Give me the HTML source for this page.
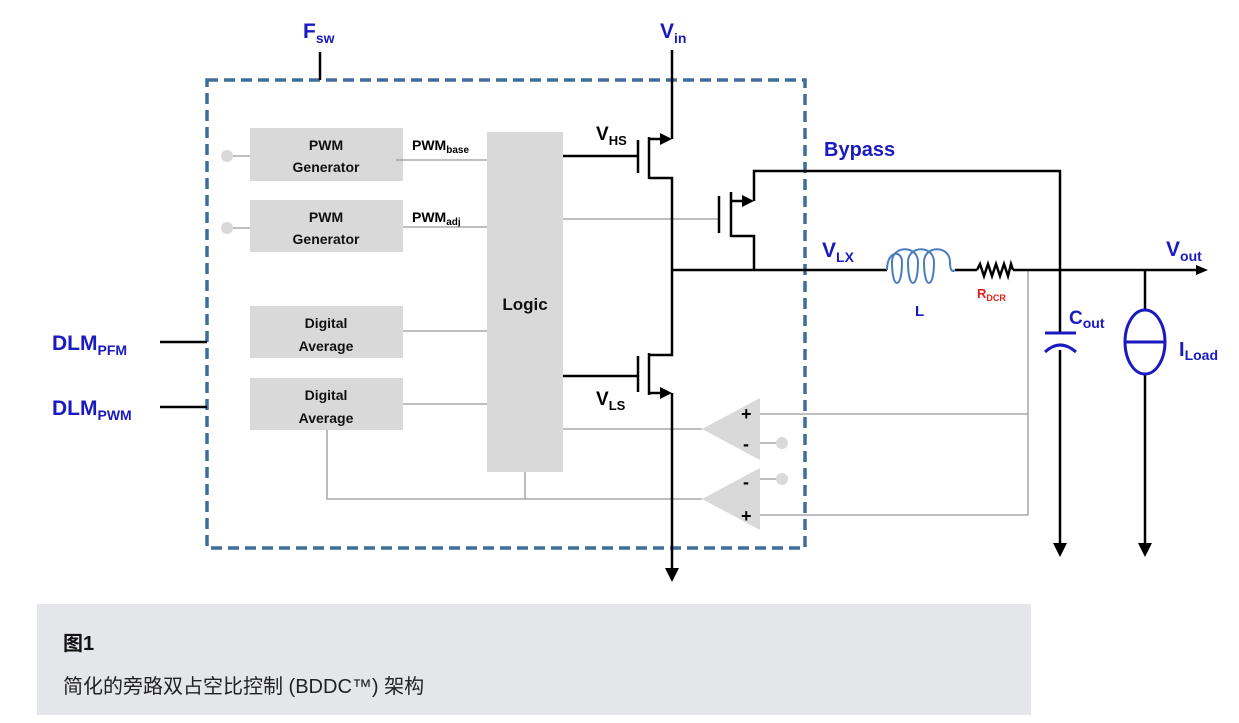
<!DOCTYPE html>
<html><head><meta charset="utf-8"><style>
html,body{margin:0;padding:0;background:#fff;width:1239px;height:723px;overflow:hidden}
svg{display:block}
.t{font-family:"Liberation Sans","Noto Sans CJK SC",sans-serif}
</style></head><body>
<svg width="1239" height="723" xmlns="http://www.w3.org/2000/svg" class="t">
<defs>
<marker id="ar" markerWidth="10" markerHeight="10" refX="0" refY="5" orient="auto" markerUnits="userSpaceOnUse"><path d="M0,0 L10,5 L0,10 Z" fill="#000"/></marker>
</defs>
<!-- dashed box -->
<rect x="207" y="80" width="598" height="468" fill="none" stroke="#3f6e9a" stroke-width="3.5" stroke-dasharray="11,6"/>
<!-- Fsw -->
<line x1="320" y1="52" x2="320" y2="80" stroke="#000" stroke-width="2.5"/>
<text x="303" y="38" font-size="21" font-weight="bold" fill="#1a1ac0">F<tspan font-size="14" dy="5">sw</tspan></text>
<!-- Vin -->
<text x="660" y="38" font-size="21" font-weight="bold" fill="#1a1ac0">V<tspan font-size="14" dy="5">in</tspan></text>
<!-- gray boxes -->
<g fill="#d9d9d9">
<rect x="250" y="128" width="153" height="53"/>
<rect x="250" y="200" width="153" height="52"/>
<rect x="250" y="306" width="153" height="52"/>
<rect x="250" y="378" width="153" height="52"/>
<rect x="487" y="132" width="76" height="340"/>
<polygon points="702,429 760,398 760,460"/>
<polygon points="702,499 760,468 760,530"/>
<circle cx="227" cy="156" r="6"/><circle cx="227" cy="228" r="6"/>
<circle cx="782" cy="443" r="6"/><circle cx="782" cy="479" r="6"/>
</g>
<g font-size="14" font-weight="bold" text-anchor="middle" fill="#111">
<text x="326" y="150">PWM</text><text x="326" y="172">Generator</text>
<text x="326" y="222">PWM</text><text x="326" y="244">Generator</text>
<text x="326" y="328">Digital</text><text x="326" y="351">Average</text>
<text x="326" y="400">Digital</text><text x="326" y="423">Average</text>
<text x="525" y="310" font-size="17">Logic</text>
</g>
<text x="412" y="150" font-size="14" font-weight="bold">PWM<tspan font-size="10" dy="3">base</tspan></text>
<text x="412" y="222" font-size="14" font-weight="bold">PWM<tspan font-size="10" dy="3">adj</tspan></text>
<!-- gray thin lines -->
<g stroke="#999" stroke-width="1.3" fill="none">
<line x1="233" y1="156" x2="250" y2="156"/><line x1="233" y1="228" x2="250" y2="228"/>
<line x1="396" y1="160" x2="487" y2="160"/><line x1="403" y1="227" x2="487" y2="227"/>
<line x1="403" y1="331" x2="487" y2="331"/><line x1="403" y1="404" x2="487" y2="404"/>
<polyline points="327,430 327,499 702,499"/><line x1="525" y1="472" x2="525" y2="499"/>
<line x1="563" y1="219" x2="719" y2="219"/><line x1="563" y1="429" x2="702" y2="429"/>
<line x1="760" y1="443" x2="776" y2="443"/><line x1="760" y1="479" x2="776" y2="479"/>
<polyline points="1028,270 1028,515 760,515"/><line x1="760" y1="414" x2="1028" y2="414"/>
</g>
<g font-size="18" font-weight="bold" fill="#000">
<text x="741" y="420">+</text><text x="743" y="450">-</text>
<text x="743" y="488">-</text><text x="741" y="522">+</text>
</g>
<!-- black wires -->
<g stroke="#000" stroke-width="2.5" fill="none">
<line x1="672" y1="50" x2="672" y2="139"/>
<polyline points="649,139 664,139"/>
<line x1="649" y1="137" x2="649" y2="179"/>
<line x1="638" y1="140" x2="638" y2="173"/>
<line x1="563" y1="156" x2="638" y2="156"/>
<polyline points="649,178 672,178 672,355 649,355"/>
<line x1="649" y1="353" x2="649" y2="395"/>
<line x1="638" y1="356" x2="638" y2="392"/>
<line x1="563" y1="376" x2="638" y2="376"/>
<polyline points="649,393 664,393"/>
<line x1="672" y1="393" x2="672" y2="568"/>
<!-- bypass -->
<line x1="719" y1="196" x2="719" y2="233"/>
<line x1="731" y1="192" x2="731" y2="237"/>
<line x1="731" y1="201" x2="746" y2="201"/>
<polyline points="754,201 754,171 1060,171 1060,333"/>
<polyline points="731,236 754,236 754,270"/>
<line x1="672" y1="270" x2="887" y2="270"/>
<line x1="955" y1="270" x2="977" y2="270"/>
<line x1="1013" y1="270" x2="1196" y2="270"/>
<line x1="1060" y1="350" x2="1060" y2="543"/>
<line x1="1145" y1="270" x2="1145" y2="310"/>
<line x1="1145" y1="374" x2="1145" y2="543"/>
<line x1="160" y1="342" x2="207" y2="342"/>
<line x1="160" y1="407" x2="207" y2="407"/>
<polyline points="977,270 980,264 984,276 988,264 992,276 996,264 1000,276 1004,264 1008,276 1011,264 1013,270" stroke-width="2.5"/>
</g>
<!-- arrowheads -->
<g fill="#000">
<polygon points="672,139 660,133 660,145"/>
<polygon points="672,393 660,387 660,399"/>
<polygon points="754,201 742,195 742,207"/>
<polygon points="665,568 679,568 672,582"/>
<polygon points="1053,543 1067,543 1060,557"/>
<polygon points="1138,543 1152,543 1145,557"/>
<polygon points="1196,265 1208,270 1196,275"/>
</g>
<!-- inductor -->
<path d="M887,270 C887,250 902,250 902,262 C902,290 892,290 892,262 C892,245 918,245 918,262 C918,290 908,290 908,262 C908,245 934,245 934,262 C934,290 924,290 924,262 C924,245 950,245 950,262 C950,275 955,270 955,270" fill="none" stroke="#4a7cc0" stroke-width="2"/>
<!-- cap -->
<line x1="1045" y1="333" x2="1076" y2="333" stroke="#1a1ac0" stroke-width="3"/>
<path d="M1045,352 Q1060,338 1076,352" fill="none" stroke="#1a1ac0" stroke-width="3"/>
<!-- current source -->
<ellipse cx="1145" cy="342" rx="20" ry="32" fill="none" stroke="#1a1ac0" stroke-width="3"/>
<line x1="1125" y1="342" x2="1165" y2="342" stroke="#1a1ac0" stroke-width="3"/>
<!-- labels -->
<g font-weight="bold" fill="#000">
<text x="596" y="140" font-size="19">V<tspan font-size="13" dy="5">HS</tspan></text>
<text x="596" y="405" font-size="19">V<tspan font-size="13" dy="5">LS</tspan></text>
</g>
<g font-weight="bold" fill="#1a1ac0">
<text x="824" y="156" font-size="20">Bypass</text>
<text x="822" y="257" font-size="21">V<tspan font-size="14" dy="5">LX</tspan></text>
<text x="1166" y="256" font-size="21">V<tspan font-size="14" dy="5">out</tspan></text>
<text x="915" y="316" font-size="15">L</text>
<text x="1069" y="324" font-size="19">C<tspan font-size="14" dy="4">out</tspan></text>
<text x="1179" y="356" font-size="20">I<tspan font-size="14" dy="4">Load</tspan></text>
<text x="52" y="350" font-size="21">DLM<tspan font-size="14" dy="5">PFM</tspan></text>
<text x="52" y="415" font-size="21">DLM<tspan font-size="14" dy="5">PWM</tspan></text>
</g>
<text x="977" y="298" font-size="13" font-weight="bold" fill="#e0201c">R<tspan font-size="9" dy="3">DCR</tspan></text>
<!-- caption -->
<rect x="37" y="604" width="994" height="111" fill="#e5e6ea"/>
<text x="63" y="650" font-size="20" font-weight="bold" fill="#111">图1</text>
<text x="63" y="693" font-size="20" fill="#222">简化的旁路双占空比控制 (BDDC™) 架构</text>
</svg>
</body></html>
